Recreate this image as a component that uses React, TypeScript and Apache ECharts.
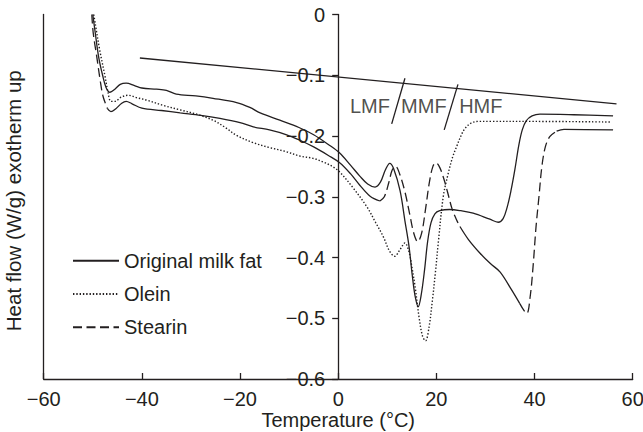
import React, { useEffect, useRef } from "react";
import * as echarts from "echarts";

// ---- data ----
const seriesNames = ["Original milk fat", "Olein", "Stearin"];

const milkFat: [number, number][] = [
  [-50.0, 0.0], [-49.5, -0.03], [-48.8, -0.07], [-48.0, -0.1], [-47.3, -0.12],
  [-46.5, -0.128], [-45.5, -0.123], [-44.4, -0.115], [-43.2, -0.113], [-41.5, -0.117],
  [-40.0, -0.121], [-37.0, -0.123], [-35.0, -0.125], [-33.0, -0.131], [-29.0, -0.134],
  [-25.5, -0.138], [-20.7, -0.145], [-18.0, -0.153], [-15.9, -0.162], [-11.9, -0.174],
  [-8.0, -0.186], [-5.0, -0.198], [-2.0, -0.214], [0.3, -0.228], [2.5, -0.248],
  [4.4, -0.266], [6.0, -0.279], [7.5, -0.284], [8.6, -0.276], [9.6, -0.256],
  [10.5, -0.245], [11.3, -0.254], [12.6, -0.29], [13.6, -0.34], [14.4, -0.38],
  [15.1, -0.43], [15.7, -0.465], [16.3, -0.481], [16.9, -0.462], [17.6, -0.42],
  [18.2, -0.375], [18.9, -0.343], [19.7, -0.328], [20.7, -0.323], [22.7, -0.321],
  [25.0, -0.323], [27.5, -0.327], [30.9, -0.337], [32.6, -0.342], [33.6, -0.336],
  [34.4, -0.318], [35.2, -0.29], [36.0, -0.255], [36.8, -0.215], [37.5, -0.19],
  [38.3, -0.175], [39.5, -0.167], [41.1, -0.164], [48.0, -0.165], [56.0, -0.167],
];

const olein: [number, number][] = [
  [-49.8, 0.0], [-49.5, -0.015], [-48.6, -0.058], [-47.5, -0.102], [-46.9, -0.128],
  [-46.3, -0.143], [-45.5, -0.143], [-44.2, -0.136], [-42.8, -0.133], [-41.0, -0.137],
  [-39.0, -0.141], [-35.5, -0.15], [-32.2, -0.157], [-28.5, -0.165], [-25.5, -0.174],
  [-23.0, -0.186], [-20.7, -0.199], [-17.3, -0.211], [-14.0, -0.219], [-10.5, -0.226],
  [-7.8, -0.233], [-5.0, -0.237], [-3.0, -0.243], [-1.0, -0.251], [0.4, -0.26],
  [3.0, -0.285], [5.8, -0.316], [7.6, -0.342], [9.2, -0.366], [10.5, -0.39],
  [11.5, -0.398], [12.6, -0.387], [13.6, -0.376], [14.4, -0.39], [15.0, -0.415],
  [15.7, -0.45], [16.5, -0.5], [17.2, -0.53], [17.8, -0.537], [18.5, -0.515],
  [19.2, -0.47], [19.8, -0.425], [20.4, -0.375], [21.4, -0.3], [22.4, -0.262],
  [23.3, -0.235], [24.1, -0.218], [25.0, -0.2], [25.8, -0.188], [27.0, -0.179],
  [28.5, -0.176], [31.0, -0.176], [40.0, -0.176], [55.7, -0.177],
];

const stearin: [number, number][] = [
  [-50.2, 0.0], [-49.9, -0.031], [-49.2, -0.069], [-48.5, -0.108], [-47.9, -0.135],
  [-47.0, -0.155], [-46.3, -0.16], [-45.3, -0.155], [-44.1, -0.146], [-43.2, -0.143],
  [-42.0, -0.147], [-40.0, -0.154], [-36.0, -0.158], [-32.2, -0.162], [-28.0, -0.166],
  [-24.1, -0.171], [-20.0, -0.178], [-17.3, -0.185], [-14.0, -0.19], [-10.5, -0.198],
  [-7.8, -0.207], [-5.0, -0.218], [-2.0, -0.232], [0.3, -0.244], [2.5, -0.262],
  [4.4, -0.281], [6.5, -0.299], [8.5, -0.307], [9.4, -0.3], [10.3, -0.277],
  [11.0, -0.256], [11.7, -0.25], [12.5, -0.262], [13.6, -0.292], [14.6, -0.33],
  [15.4, -0.36], [16.2, -0.374], [17.0, -0.36], [17.8, -0.32], [18.6, -0.275],
  [19.3, -0.25], [19.9, -0.244], [20.7, -0.252], [21.5, -0.27], [22.3, -0.293],
  [23.2, -0.32], [24.1, -0.338], [24.8, -0.349], [26.5, -0.37], [28.9, -0.393],
  [31.0, -0.41], [33.0, -0.424], [35.3, -0.453], [37.0, -0.476], [38.4, -0.492],
  [39.1, -0.465], [39.7, -0.415], [40.3, -0.35], [40.9, -0.3], [41.5, -0.25],
  [42.2, -0.218], [43.1, -0.201], [44.5, -0.192], [46.0, -0.189], [56.0, -0.19],
];

// stretches of the stearin trace where the dash pattern is visible
const stearinDashedRanges: [number, number][] = [[-51, -47.3], [9.2, 24.5], [38.4, 43.3]];

const baseline: [number, number][] = [[-40.4, -0.0716], [56.7, -0.147]];
const divider1: [number, number][] = [[10.9, -0.18], [13.6, -0.105]];
const divider2: [number, number][] = [[21.6, -0.19], [24.4, -0.115]];
const fractionNames = ["LMF", "MMF", "HMF"];
const fractionPos: [number, number][] = [[6.46, -0.1506], [17.45, -0.1506], [29.06, -0.1506]];

const xTitle = "Temperature (\u00B0C)";
const yTitle = "Heat flow (W/g) exotherm up";

const FONT = "'Liberation Sans', Arial, Helvetica, sans-serif";
const INK = "#231f20";

const GRID_LEFT = 43.7;
const GRID_RIGHT = 10.3;
const X_MIN = -60;
const X_MAX = 60;

const fmt = (v: number) => {
  const r = Math.round(v * 10) / 10;
  return r < 0 ? "\u2212" + String(Math.abs(r)) : String(r);
};

export default function App() {
  const ref = useRef<HTMLDivElement>(null);
  useEffect(() => {
    if (!ref.current) return;
    const chart = echarts.init(ref.current, undefined, { renderer: "svg" });

    const inDash = (x: number) => stearinDashedRanges.some(([a, b]) => x >= a && x <= b);
    const n = stearin.length;
    const stearinDashed = stearin.map((p, i) =>
      inDash(p[0]) || (i > 0 && inDash(stearin[i - 1][0])) || (i < n - 1 && inDash(stearin[i + 1][0]))
        ? p
        : [p[0], null]
    );
    const stearinSolid = stearin.map((p) => (inDash(p[0]) ? [p[0], null] : p));

    // the value axis crosses the x axis at 0: shift it inward from the grid's left edge
    const plotW = 643 - GRID_LEFT - GRID_RIGHT;
    const zeroOffset = -((0 - X_MIN) / (X_MAX - X_MIN)) * plotW;

    const base = {
      type: "line",
      symbol: "none",
      showSymbol: false,
      smooth: 0.35,
      silent: true,
      emphasis: { disabled: true },
      z: 3,
    };

    chart.setOption({
      animation: false,
      textStyle: { fontFamily: FONT, color: INK },
      grid: {
        left: GRID_LEFT,
        right: GRID_RIGHT,
        top: 14.5,
        bottom: 53,
        containLabel: false,
        outerBoundsMode: "none",
      },
      legend: {
        data: seriesNames,
        orient: "vertical",
        left: 72,
        top: 250.7,
        padding: 0,
        itemWidth: 46,
        itemHeight: 20,
        itemGap: 13.3,
        selectedMode: false,
        itemStyle: { opacity: 0, color: "transparent", borderWidth: 0 },
        textStyle: { fontSize: 20, color: INK, fontFamily: FONT },
      },
      xAxis: {
        type: "value",
        min: X_MIN,
        max: X_MAX,
        interval: 20,
        name: xTitle,
        nameLocation: "middle",
        nameGap: 31,
        nameMoveOverlap: false,
        nameTextStyle: { fontSize: 20, color: INK, fontFamily: FONT },
        axisLine: { onZero: false, lineStyle: { color: INK, width: 1.3 } },
        axisTick: { inside: true, length: 6, lineStyle: { color: INK, width: 1.3 } },
        axisLabel: { fontSize: 20, color: INK, margin: 10, formatter: fmt, fontFamily: FONT },
        splitLine: { show: false },
      },
      yAxis: [
        {
          type: "value",
          min: -0.6,
          max: 0,
          interval: 0.1,
          position: "left",
          offset: zeroOffset,
          axisLine: { show: true, onZero: false, lineStyle: { color: INK, width: 1.3 } },
          axisTick: { show: true, length: 6, lineStyle: { color: INK, width: 1.3 } },
          axisLabel: { fontSize: 20, color: INK, margin: 13, formatter: fmt, fontFamily: FONT },
          splitLine: { show: false },
        },
        {
          type: "value",
          min: -0.6,
          max: 0,
          interval: 0.1,
          position: "left",
          name: yTitle,
          nameLocation: "middle",
          nameGap: 20,
          nameRotate: 90,
          nameMoveOverlap: false,
          nameTextStyle: { fontSize: 20.5, color: INK, fontFamily: FONT, padding: [0, 8, 0, 0] },
          axisLine: { show: true, onZero: false, lineStyle: { color: INK, width: 1.3 } },
          axisTick: { show: false },
          axisLabel: { show: false },
          splitLine: { show: false },
        },
      ],
      series: [
        {
          ...base,
          name: seriesNames[0],
          data: milkFat,
          lineStyle: { color: INK, width: 1.3, type: "solid" },
        },
        {
          ...base,
          name: seriesNames[1],
          data: olein,
          lineStyle: { color: INK, width: 1.4, type: [1.4, 1.9] },
        },
        {
          ...base,
          name: seriesNames[2],
          data: stearinDashed,
          lineStyle: { color: INK, width: 1.3, type: [9, 4.5] },
        },
        {
          ...base,
          name: seriesNames[2],
          data: stearinSolid,
          lineStyle: { color: INK, width: 1.3, type: "solid" },
        },
        {
          ...base,
          smooth: false,
          name: "baseline",
          data: baseline,
          lineStyle: { color: INK, width: 1.3 },
        },
        {
          ...base,
          smooth: false,
          name: "divider LMF/MMF",
          data: divider1,
          lineStyle: { color: INK, width: 1.3 },
        },
        {
          ...base,
          smooth: false,
          name: "divider MMF/HMF",
          data: divider2,
          lineStyle: { color: INK, width: 1.3 },
        },
        {
          type: "scatter",
          name: "fractions",
          silent: true,
          symbolSize: 0,
          z: 4,
          data: fractionNames.map((nm, i) => ({ name: nm, value: fractionPos[i] })),
          label: {
            show: true,
            position: "inside",
            formatter: "{b}",
            fontSize: 20,
            color: INK,
            fontFamily: FONT,
          },
          emphasis: { disabled: true },
        },
      ],
    });

    return () => chart.dispose();
  }, []);

  return (
    <div
      ref={ref}
      style={{ position: "fixed", left: 0, top: 0, width: 643, height: 432, background: "#fff" }}
    />
  );
}
